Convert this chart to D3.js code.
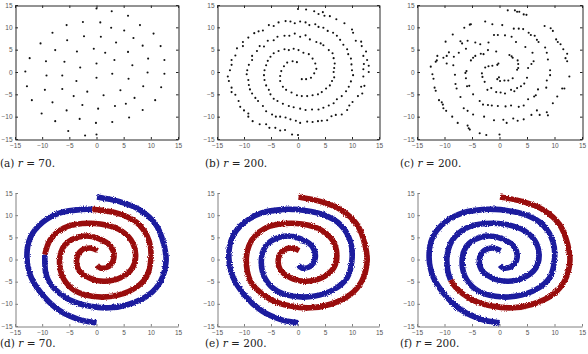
<!DOCTYPE html>
<html>
<head>
<meta charset="utf-8">
<script src="https://cdn.jsdelivr.net/npm/d3@7"></script>
<style>
  body { margin: 0; background: #fff; }
  svg { display: block; }
</style>
</head>
<body>
<div id="chart"></div>
<script>
// ---- data ----
const tickValues = [-15, -10, -5, 0, 5, 10, 15];

// (a) r = 70 : sample points
const pointsA = [
  [0, 14.2], [2.8, 13.6], [5.8, 12.6], [-2.5, 11.2], [0.7, 11.1], [-5.5, 10.5], [8.0, 10.5],
  [-8.1, 8.8], [2.7, 9.9], [5.1, 9.3], [10.5, 8.6], [-2.3, 8.0], [0.8, 7.9], [6.8, 7.6],
  [-5.4, 7.1], [-10.3, 6.4], [3.6, 6.6], [8.5, 5.9], [11.8, 5.8], [-7.6, 4.9], [-3.6, 4.6],
  [-0.5, 5.2], [1.6, 4.3], [5.8, 4.5], [-12.3, 3.1], [9.5, 3.0], [12.5, 2.7], [-9.3, 2.4],
  [-5.9, 2.3], [3.3, 2.7], [0, 1.9], [-3.0, 1.0], [6.6, 1.5], [-13.1, 0.1], [9.4, -0.1],
  [12.5, -0.4], [-9.2, -0.8], [-6.3, -0.8], [2.9, -0.4], [0, -1.3], [5.9, -1.5], [-3.7, -2.0],
  [-12.8, -3.2], [8.6, -3.2], [11.9, -3.4], [-9.5, -4.0], [-6.3, -3.8], [-1.7, -4.4], [4.4, -4.1],
  [1.3, -5.2], [-4.2, -5.4], [-11.9, -6.3], [7.0, -5.8], [10.8, -6.3], [-8.1, -6.8], [-2.6, -7.4],
  [3.4, -7.6], [5.4, -7.1], [0.3, -8.2], [-5.5, -8.6], [8.5, -8.5], [-10.1, -9.3], [6.0, -10.2],
  [-3.1, -10.5], [-7.6, -11.0], [2.9, -11.2], [-0.1, -11.4], [-5.2, -13.2], [0, -14.0], [-2.1, -14.2]
];

// (b) r = 200 : sample points
const pointsB = [
  [0, 14.1], [1.5, 14.0], [3.0, 13.6], [3.8, 13.0], [4.6, 13.4], [4.9, 12.6], [5.9, 12.5], [7.1, 11.8],
  [8.6, 10.9], [10.0, 9.5], [10.2, 8.8], [10.7, 7.0], [11.7, 6.8], [11.8, 5.8], [12.6, 4.6], [12.1, 3.6],
  [12.8, 2.7], [12.2, 1.8], [13.1, 1.4], [12.1, 0.6], [13.1, 0], [12.1, -1.0], [11.7, -3.3], [12.3, -3.1],
  [11.9, -4.8], [11.1, -5.4], [10.1, -6.7], [9.5, -7.5], [9.1, -8.5], [8.1, -9.5], [7.0, -9.6], [6.2, -9.9],
  [5.4, -10.8], [4.4, -10.9], [3.7, -11.0], [2.7, -11.2], [1.7, -11.1], [0.4, -11.4], [-0.4, -10.9],
  [-1.4, -10.6], [-2.3, -10.2], [-3.3, -10.0], [-4.1, -10.0], [-4.8, -9.5], [-5.9, -8.8], [-6.5, -7.6],
  [-7.4, -6.5], [-7.9, -5.8], [-8.5, -4.8], [-8.9, -3.9], [-9.1, -2.9], [-9.2, -1.8], [-9.5, -0.5],
  [-9.4, 0.4], [-9.1, 1.6], [-8.5, 2.7], [-8.5, 3.6], [-7.6, 4.7], [-7.1, 5.8], [-6.3, 5.7], [-5.6, 7.0],
  [-4.5, 7.1], [-3.8, 7.9], [-2.5, 8.1], [-1.6, 8.1], [-0.6, 8.6], [0.4, 7.9], [1.4, 8.2], [2.2, 7.3],
  [3.4, 6.7], [4.2, 6.4], [4.7, 6.0], [5.7, 4.9], [6.4, 4.2], [6.6, 3.1], [6.8, 1.9], [6.7, 0.9],
  [6.6, 0], [6.7, -1.2], [6.3, -2.0], [5.9, -3.0], [5.2, -3.7], [4.4, -4.5], [3.7, -5.0], [2.7, -5.2],
  [1.7, -5.4], [0.7, -5.4], [-0.2, -5.2], [-1.2, -4.6], [-2.2, -4.0], [-2.8, -3.3], [-3.3, -2.0],
  [-3.3, -0.9], [-3.1, 0.2], [-2.6, 1.3], [-2.0, 2.1], [-1.0, 2.4], [-0.2, 2.2],
  [0, -14.1], [-1.1, -14.0], [-2.4, -13.0], [-3.3, -13.1], [-4.2, -12.5], [-5.3, -12.5], [-5.9, -11.7],
  [-7.1, -11.7], [-8.4, -11.0], [-9.2, -10.0], [-9.2, -9.3], [-10.0, -8.6], [-10.7, -7.8], [-11.0, -6.5],
  [-11.6, -5.1], [-12.3, -4.5], [-12.3, -3.5], [-12.8, -2.0], [-13.0, -1.0], [-12.6, 0.4], [-12.3, 1.6],
  [-12.3, 2.7], [-11.6, 3.7], [-11.3, 5.3], [-10.2, 5.8], [-10.2, 6.7], [-9.2, 7.7], [-8.1, 8.7],
  [-7.3, 9.1], [-6.5, 9.3], [-5.4, 10.5], [-4.5, 10.3], [-3.6, 11.1], [-2.3, 11.4], [-1.4, 11.3],
  [-0.6, 10.9], [0.4, 11.3], [1.4, 11.1], [2.1, 10.5], [3.2, 10.7], [3.8, 10.1], [4.7, 9.9], [5.5, 9.2],
  [6.5, 8.8], [7.2, 8.1], [7.8, 7.2], [8.4, 6.1], [9.1, 5.1], [9.3, 4.0], [9.8, 3.0], [9.9, 1.7],
  [10.0, 0.4], [10.2, -0.7], [9.8, -2.1], [9.4, -3.3], [8.9, -4.3], [8.1, -5.4], [7.2, -6.1], [6.6, -7.0],
  [5.7, -7.5], [4.7, -8.0], [3.8, -8.4], [2.6, -8.4], [1.4, -8.5], [0.4, -8.2], [-0.8, -7.9], [-1.7, -7.6],
  [-2.8, -7.1], [-3.8, -6.5], [-4.5, -6.0], [-5.1, -5.0], [-5.4, -4.0], [-5.9, -3.0], [-6.2, -1.8],
  [-6.3, -0.7], [-6.2, 0.4], [-5.9, 1.5], [-5.6, 2.5], [-5.1, 3.4], [-4.5, 4.2], [-3.6, 4.7], [-2.5, 5.1],
  [-1.7, 4.9], [-0.8, 5.2], [0.1, 4.9], [1.0, 4.3], [2.0, 4.0], [2.7, 3.0], [3.2, 1.9], [3.4, 0.7],
  [3.0, -0.3], [2.4, -1.3], [1.5, -1.6], [0.7, -1.6]
];

// (c) r = 200 : sample points
const pointsC = [
  [1.5, 13.8], [2.8, 13.8], [3.2, 13.5], [3.6, 13.5], [4.4, 12.9], [4.9, 12.8], [-1.3, 10.7], [0.5, 10.5],
  [2.6, 9.7], [3.5, 9.7], [4.3, 9.6], [5.3, 8.8], [5.7, 8.3], [6.4, 8.1], [6.8, 7.2], [7.1, 6.7],
  [8.2, 10.3], [9.3, 9.8], [9.7, 9.2], [10.3, 7.3], [10.6, 6.7], [11.1, 6.2], [11.6, 5.1], [12.3, 4.1],
  [12.0, 3.1], [12.3, 2.4], [12.7, -1.0], [11.8, -3.7], [11.4, -3.7], [10.5, -5.5], [9.7, -7.0],
  [8.6, -9.0], [8.8, -9.7], [8.3, 5.5], [8.6, 4.3], [8.8, 2.8], [9.2, 0.4], [9.2, -0.7], [8.6, -1.9],
  [8.5, -3.5], [7.0, -3.9], [6.6, -5.2], [6.3, -5.5], [5.2, -6.1], [4.4, -7.5], [3.5, -7.8], [2.1, -7.5],
  [1.1, -7.7], [-0.3, -7.6], [-1.4, -7.5], [-2.1, -7.4], [-3.0, -7.3], [-3.6, -6.5], [-4.8, -5.0],
  [-5.5, -3.1], [-5.9, -3.2], [-6.1, -1.4], [-6.2, -0.2], [-6.0, 0.2], [-5.2, 2.6], [-4.8, 3.2],
  [-4.4, 3.6], [-3.4, 4.1], [-2.9, 4.0], [-2.1, 4.9], [-0.6, 4.6], [1.8, 3.8], [2.2, 3.5], [2.4, 3.2],
  [3.3, 2.6], [3.4, 1.8], [3.4, 0.9], [3.2, 0.5], [2.4, -1.4], [1.6, -1.9], [0.9, -1.9], [0.1, -2.0],
  [-0.4, -1.6], [-0.1, -1.2], [-0.2, 1.9], [-0.4, 1.6], [-1.3, 1.4], [-2.0, 1.3], [-2.6, 1.0], [-3.2, -0.3],
  [-3.1, -1.1], [-2.7, -2.2], [-2.2, -4.0], [-1.5, -3.6], [-0.6, -4.5], [0.2, -4.6], [1.0, -4.8], [2.1, -4.0],
  [2.7, -4.3], [3.2, -3.6], [3.9, -3.2], [4.5, -2.6], [5.0, -1.3], [5.2, 0.9], [5.8, 1.8], [6.2, 2.4],
  [6.0, 4.3], [4.7, 5.6], [3.0, 6.7], [2.2, 7.9], [1.0, 8.2], [-0.3, 8.3], [-1.0, 8.3], [-2.0, 6.6],
  [-3.5, 6.2], [-4.4, 6.6], [-5.8, 7.0], [-6.1, 5.2], [-7.4, 4.3], [-8.3, 3.4], [-8.4, 1.5], [-9.6, 1.9],
  [-8.1, -0.6], [-8.0, -2.7], [-7.8, -3.7], [-7.1, -5.6], [-6.5, -8.1], [-5.8, -8.7], [-4.8, -9.5],
  [-2.8, -10.0], [-1.0, -10.8], [0.7, -10.7], [1.3, -11.4], [2.5, -10.4], [3.3, -10.9], [4.4, -10.6],
  [5.8, -9.6], [6.8, -8.6], [7.3, -9.6], [-12.5, 1.2], [-12.2, -0.5], [-12.0, -1.5], [-11.8, -3.5],
  [-11.6, -4.2], [-11.0, -6.3], [-10.5, -6.8], [-10.3, -7.3], [-10.2, -8.1], [-9.7, -8.7], [-8.6, -10.0],
  [-7.6, -11.4], [-5.8, -12.0], [-5.6, -12.6], [-5.4, -12.9], [-3.6, -13.7], [-2.4, -14.1], [0, -14.0],
  [-11.6, 2.3], [-11.4, 2.6], [-11.3, 3.6], [-10.2, 3.2], [-9.8, 6.8], [-8.5, 8.4], [-6.4, 9.9],
  [-5.4, 10.6], [-5.2, 10.7], [-2.6, 11.3], [-7.1, 6.9], [-6.8, 6.4], [-9.2, 4.4], [-9.6, 3.6]
];

// (d)-(f) two-spiral data: centre lines of the two arms
const armOne = [
  [0.1, 14.1], [4.1, 13.1], [7.8, 11.3], [10.9, 7.9], [12.4, 3.4], [12.8, -0.4], [11.8, -4.9], [9.7, -7.9],
  [6.0, -10.1], [2.3, -10.9], [-1.4, -10.5], [-5.1, -9.0], [-7.9, -6.4], [-8.9, -4.6], [-9.4, -2.6],
  [-9.5, 1.1], [-8.5, 4.5], [-6.0, 7.1], [-2.6, 8.1], [0.7, 8.0], [4.1, 6.8], [6.3, 4.5], [7.2, 1.1],
  [6.6, -1.9], [4.4, -4.1], [1.4, -4.9], [-1.4, -4.1], [-3.3, -2.3], [-3.6, 0.4], [-2.8, 2.0], [-1.2, 2.6],
  [0.2, 2.0]
];
const armTwo = [
  [0, -14.3], [-3.3, -13.5], [-6.7, -11.6], [-9.7, -8.3], [-12.0, -4.1], [-12.8, 0.4], [-12.2, 4.9],
  [-10.0, 8.3], [-6.7, 10.5], [-2.6, 11.3], [-0.8, 11.3], [1.0, 11.1], [4.7, 10.1], [7.8, 7.9], [9.7, 4.1],
  [10.0, 0], [9.1, -4.1], [6.6, -6.8], [2.9, -8.3], [-0.8, -8.3], [-3.9, -7.1], [-6.0, -4.5], [-6.8, -0.8],
  [-6.2, 2.6], [-4.5, 4.5], [-2.0, 5.3], [0.4, 4.7], [2.6, 3.0], [3.2, 0.4], [2.3, -1.5], [0.7, -1.9],
  [0.1, -1.3]
];

// class of each arm, as runs [class, first index, last index]
const runsD = { one: [["blue", 0, 15], ["red", 15, 31]], two: [["blue", 0, 10], ["red", 10, 31]] };
const runsE = { one: [["red", 0, 31]], two: [["blue", 0, 31]] };
const runsF = { one: [["red", 0, 13], ["blue", 13, 31]], two: [["blue", 0, 31]] };

const captionLetters = ["a", "b", "c", "d", "e", "f"];
const captionValues = ["70", "200", "200", "70", "200", "200"];

// ---- drawing ----
const W = 588, H = 354;
const classColour = { blue: "#1a1a9e", red: "#990d0d" };

const svg = d3.select("#chart").append("svg")
  .attr("width", W).attr("height", H)
  .style("font-family", "'Liberation Sans', Arial, sans-serif");

const defs = svg.append("defs");
const rough = defs.append("filter").attr("id", "rough")
  .attr("x", "-10%").attr("y", "-10%").attr("width", "120%").attr("height", "120%");
rough.append("feTurbulence").attr("type", "fractalNoise")
  .attr("baseFrequency", 0.9).attr("numOctaves", 2).attr("seed", 4).attr("result", "noise");
rough.append("feDisplacementMap").attr("in", "SourceGraphic").attr("in2", "noise")
  .attr("scale", 3).attr("xChannelSelector", "R").attr("yChannelSelector", "G");

const cols = [[15, 178], [217, 379], [417, 582]];
const rows = [[5, 139], [193, 326]];

const panels = [];
for (let r = 0; r < 2; r++) {
  for (let c = 0; c < 3; c++) panels.push({ row: r, col: c, i: r * 3 + c });
}
const scatterData = [pointsA, pointsB, pointsC];
const spiralRuns = [runsD, runsE, runsF];
const captionX = [0, 205, 400];

panels.forEach(p => {
  const [x0, x1] = cols[p.col];
  const [y0, y1] = rows[p.row];
  const x = d3.scaleLinear().domain([-15, 15]).range([x0, x1]);
  const y = d3.scaleLinear().domain([-15, 15]).range([y1, y0]);
  const g = svg.append("g");
  const axisColour = p.row === 0 ? "#262626" : "#808080";

  // marks
  if (p.row === 0) {
    g.append("g").selectAll("circle")
      .data(scatterData[p.col])
      .join("circle")
      .attr("cx", d => x(d[0]))
      .attr("cy", d => y(d[1]))
      .attr("r", 1.05)
      .attr("fill", "#111");
  } else {
    const line = d3.line().x(d => x(d[0])).y(d => y(d[1])).curve(d3.curveCatmullRom.alpha(0.5));
    const runs = spiralRuns[p.col];
    const sg = g.append("g").attr("filter", "url(#rough)");
    [["one", armOne], ["two", armTwo]].forEach(([key, arm]) => {
      runs[key].forEach(([cls, a, b]) => {
        sg.append("path")
          .attr("d", line(arm.slice(a, b + 1)))
          .attr("fill", "none")
          .attr("stroke", classColour[cls])
          .attr("stroke-width", 5.6)
          .attr("stroke-linecap", "butt")
          .attr("stroke-linejoin", "round");
      });
    });
  }

  // axes
  const styleAxis = sel => {
    sel.select(".domain").attr("stroke", axisColour);
    sel.selectAll(".tick line").attr("stroke", axisColour);
    sel.selectAll(".tick text").attr("fill", "#555").attr("font-size", 6.5);
  };
  g.append("g")
    .attr("transform", `translate(0,${y1 + 0.5})`)
    .call(d3.axisBottom(x).tickValues(tickValues).tickSizeInner(-2.5).tickSizeOuter(0).tickPadding(3.5))
    .call(styleAxis);
  g.append("g")
    .attr("transform", `translate(${x0 + 0.5},0)`)
    .call(d3.axisLeft(y).tickValues(tickValues).tickSizeInner(-2.5).tickSizeOuter(0).tickPadding(3))
    .call(styleAxis);
  if (p.row === 0) {
    g.append("g")
      .attr("transform", `translate(0,${y0 + 0.5})`)
      .call(d3.axisTop(x).tickValues(tickValues).tickSizeInner(-2.5).tickSizeOuter(0).tickFormat(""))
      .call(styleAxis);
    g.append("g")
      .attr("transform", `translate(${x1 + 0.5},0)`)
      .call(d3.axisRight(y).tickValues(tickValues).tickSizeInner(-2.5).tickSizeOuter(0).tickFormat(""))
      .call(styleAxis);
  }
  g.selectAll(".domain").attr("stroke-width", 1);

  // caption
  const cap = svg.append("text")
    .attr("x", captionX[p.col])
    .attr("y", p.row === 0 ? 166.5 : 347)
    .attr("font-family", "'DejaVu Serif', 'Liberation Serif', serif")
    .attr("font-size", 10.5)
    .attr("fill", "#222");
  cap.append("tspan").text(`(${captionLetters[p.i]}) `);
  cap.append("tspan").attr("font-style", "italic").text("r");
  cap.append("tspan").text(` = ${captionValues[p.i]}.`);
});
</script>
</body>
</html>
